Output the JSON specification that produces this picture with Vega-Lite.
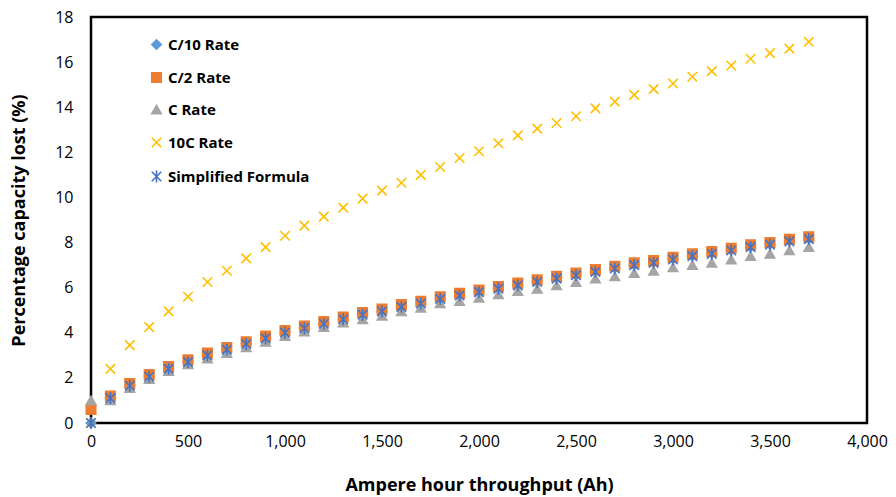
{
  "$schema": "https://vega.github.io/schema/vega-lite/v6.json",
  "width": 776,
  "height": 406,
  "autosize": "none",
  "padding": {"left": 91, "top": 17, "right": 29, "bottom": 74},
  "background": "white",
  "config": {
    "view": {"stroke": "#000000", "strokeWidth": 2.5},
    "font": "Open Sans"
  },
  "data": {
    "values": [
      {"ah": 0, "C/10 Rate": 0, "C/2 Rate": 0.6, "C Rate": 1.0, "10C Rate": 0, "Simplified Formula": 0},
      {"ah": 100, "C/10 Rate": 1.12, "C/2 Rate": 1.2, "C Rate": 1.0, "10C Rate": 2.4, "Simplified Formula": 1.1},
      {"ah": 200, "C/10 Rate": 1.67, "C/2 Rate": 1.75, "C Rate": 1.55, "10C Rate": 3.45, "Simplified Formula": 1.65},
      {"ah": 300, "C/10 Rate": 2.07, "C/2 Rate": 2.15, "C Rate": 1.95, "10C Rate": 4.25, "Simplified Formula": 2.05},
      {"ah": 400, "C/10 Rate": 2.42, "C/2 Rate": 2.5, "C Rate": 2.3, "10C Rate": 4.95, "Simplified Formula": 2.4},
      {"ah": 500, "C/10 Rate": 2.72, "C/2 Rate": 2.8, "C Rate": 2.6, "10C Rate": 5.6, "Simplified Formula": 2.7},
      {"ah": 600, "C/10 Rate": 3.02, "C/2 Rate": 3.1, "C Rate": 2.85, "10C Rate": 6.25, "Simplified Formula": 3.0},
      {"ah": 700, "C/10 Rate": 3.27, "C/2 Rate": 3.35, "C Rate": 3.1, "10C Rate": 6.75, "Simplified Formula": 3.25},
      {"ah": 800, "C/10 Rate": 3.52, "C/2 Rate": 3.6, "C Rate": 3.35, "10C Rate": 7.3, "Simplified Formula": 3.5},
      {"ah": 900, "C/10 Rate": 3.77, "C/2 Rate": 3.85, "C Rate": 3.6, "10C Rate": 7.8, "Simplified Formula": 3.75},
      {"ah": 1000, "C/10 Rate": 4.02, "C/2 Rate": 4.1, "C Rate": 3.85, "10C Rate": 8.3, "Simplified Formula": 4.0},
      {"ah": 1100, "C/10 Rate": 4.22, "C/2 Rate": 4.3, "C Rate": 4.05, "10C Rate": 8.75, "Simplified Formula": 4.2},
      {"ah": 1200, "C/10 Rate": 4.42, "C/2 Rate": 4.5, "C Rate": 4.25, "10C Rate": 9.15, "Simplified Formula": 4.4},
      {"ah": 1300, "C/10 Rate": 4.62, "C/2 Rate": 4.7, "C Rate": 4.45, "10C Rate": 9.55, "Simplified Formula": 4.6},
      {"ah": 1400, "C/10 Rate": 4.82, "C/2 Rate": 4.9, "C Rate": 4.6, "10C Rate": 9.95, "Simplified Formula": 4.8},
      {"ah": 1500, "C/10 Rate": 4.98, "C/2 Rate": 5.05, "C Rate": 4.75, "10C Rate": 10.3, "Simplified Formula": 4.95},
      {"ah": 1600, "C/10 Rate": 5.17, "C/2 Rate": 5.25, "C Rate": 4.95, "10C Rate": 10.65, "Simplified Formula": 5.15},
      {"ah": 1700, "C/10 Rate": 5.33, "C/2 Rate": 5.4, "C Rate": 5.1, "10C Rate": 11.0, "Simplified Formula": 5.3},
      {"ah": 1800, "C/10 Rate": 5.52, "C/2 Rate": 5.6, "C Rate": 5.3, "10C Rate": 11.35, "Simplified Formula": 5.5},
      {"ah": 1900, "C/10 Rate": 5.68, "C/2 Rate": 5.75, "C Rate": 5.4, "10C Rate": 11.75, "Simplified Formula": 5.65},
      {"ah": 2000, "C/10 Rate": 5.83, "C/2 Rate": 5.9, "C Rate": 5.55, "10C Rate": 12.05, "Simplified Formula": 5.8},
      {"ah": 2100, "C/10 Rate": 5.98, "C/2 Rate": 6.05, "C Rate": 5.7, "10C Rate": 12.4, "Simplified Formula": 5.95},
      {"ah": 2200, "C/10 Rate": 6.13, "C/2 Rate": 6.2, "C Rate": 5.85, "10C Rate": 12.75, "Simplified Formula": 6.1},
      {"ah": 2300, "C/10 Rate": 6.28, "C/2 Rate": 6.35, "C Rate": 5.95, "10C Rate": 13.05, "Simplified Formula": 6.25},
      {"ah": 2400, "C/10 Rate": 6.43, "C/2 Rate": 6.5, "C Rate": 6.1, "10C Rate": 13.3, "Simplified Formula": 6.4},
      {"ah": 2500, "C/10 Rate": 6.58, "C/2 Rate": 6.65, "C Rate": 6.25, "10C Rate": 13.6, "Simplified Formula": 6.55},
      {"ah": 2600, "C/10 Rate": 6.73, "C/2 Rate": 6.8, "C Rate": 6.4, "10C Rate": 13.95, "Simplified Formula": 6.7},
      {"ah": 2700, "C/10 Rate": 6.88, "C/2 Rate": 6.95, "C Rate": 6.5, "10C Rate": 14.25, "Simplified Formula": 6.85},
      {"ah": 2800, "C/10 Rate": 7.02, "C/2 Rate": 7.1, "C Rate": 6.65, "10C Rate": 14.55, "Simplified Formula": 7.0},
      {"ah": 2900, "C/10 Rate": 7.13, "C/2 Rate": 7.2, "C Rate": 6.75, "10C Rate": 14.8, "Simplified Formula": 7.1},
      {"ah": 3000, "C/10 Rate": 7.28, "C/2 Rate": 7.35, "C Rate": 6.9, "10C Rate": 15.05, "Simplified Formula": 7.25},
      {"ah": 3100, "C/10 Rate": 7.42, "C/2 Rate": 7.5, "C Rate": 7.0, "10C Rate": 15.35, "Simplified Formula": 7.4},
      {"ah": 3200, "C/10 Rate": 7.53, "C/2 Rate": 7.6, "C Rate": 7.1, "10C Rate": 15.6, "Simplified Formula": 7.5},
      {"ah": 3300, "C/10 Rate": 7.68, "C/2 Rate": 7.75, "C Rate": 7.25, "10C Rate": 15.85, "Simplified Formula": 7.65},
      {"ah": 3400, "C/10 Rate": 7.82, "C/2 Rate": 7.9, "C Rate": 7.4, "10C Rate": 16.15, "Simplified Formula": 7.8},
      {"ah": 3500, "C/10 Rate": 7.93, "C/2 Rate": 8.0, "C Rate": 7.5, "10C Rate": 16.4, "Simplified Formula": 7.9},
      {"ah": 3600, "C/10 Rate": 8.08, "C/2 Rate": 8.15, "C Rate": 7.65, "10C Rate": 16.6, "Simplified Formula": 8.05},
      {"ah": 3700, "C/10 Rate": 8.18, "C/2 Rate": 8.25, "C Rate": 7.8, "10C Rate": 16.9, "Simplified Formula": 8.15}
    ]
  },
  "transform": [
    {"fold": ["C/10 Rate", "C/2 Rate", "C Rate", "10C Rate", "Simplified Formula"], "as": ["series", "value"]}
  ],
  "mark": {"type": "point", "filled": true, "strokeWidth": 1.6, "opacity": 1, "size": 90},
  "encoding": {
    "x": {
      "field": "ah", "type": "quantitative",
      "scale": {"domain": [0, 4000], "nice": false, "zero": true},
      "axis": {
        "title": "Ampere hour throughput (Ah)",
        "values": [0, 500, 1000, 1500, 2000, 2500, 3000, 3500, 4000],
        "format": ",.0f",
        "grid": false, "domain": false, "ticks": false,
        "labelFont": "Open Sans", "labelFontSize": 16, "labelColor": "#000000",
        "labelPadding": 10, "labelFlush": false,
        "titleFont": "Open Sans", "titleFontSize": 18, "titleFontWeight": "bold", "titleColor": "#000000",
        "titlePadding": 27
      }
    },
    "y": {
      "field": "value", "type": "quantitative",
      "scale": {"domain": [0, 18], "nice": false},
      "axis": {
        "title": "Percentage capacity lost (%)",
        "values": [0, 2, 4, 6, 8, 10, 12, 14, 16, 18],
        "grid": false, "domain": false, "ticks": false,
        "labelFont": "Open Sans", "labelFontSize": 16, "labelColor": "#000000",
        "labelPadding": 18,
        "titleFont": "Open Sans", "titleFontSize": 18, "titleFontWeight": "bold", "titleColor": "#000000",
        "titlePadding": 26
      }
    },
    "fill": {
      "field": "series", "type": "nominal",
      "scale": {
        "domain": ["C/10 Rate", "C/2 Rate", "C Rate", "10C Rate", "Simplified Formula"],
        "range": ["#5B9BD5", "#ED7D31", "#A5A5A5", "rgba(0,0,0,0)", "rgba(0,0,0,0)"]
      }
    },
    "stroke": {
      "field": "series", "type": "nominal",
      "scale": {
        "domain": ["C/10 Rate", "C/2 Rate", "C Rate", "10C Rate", "Simplified Formula"],
        "range": ["#5B9BD5", "#ED7D31", "#A5A5A5", "#FFC000", "#4472C4"]
      }
    },
    "shape": {
      "field": "series", "type": "nominal",
      "scale": {
        "domain": ["C/10 Rate", "C/2 Rate", "C Rate", "10C Rate", "Simplified Formula"],
        "range": ["diamond", "square", "triangle-up", "M-1,-1L1,1M-1,1L1,-1", "M-1,-1L1,1M-1,1L1,-1M0,-1.25L0,1.25"]
      },
      "legend": {
        "title": null,
        "orient": "none",
        "legendX": 58,
        "legendY": 20,
        "symbolStrokeWidth": 1.6,
        "symbolSize": 90,
        "rowPadding": 16,
        "labelFont": "Open Sans",
        "labelFontSize": 15,
        "labelFontWeight": "bold",
        "labelColor": "#000000",
        "labelOffset": 4
      }
    }
  }
}
